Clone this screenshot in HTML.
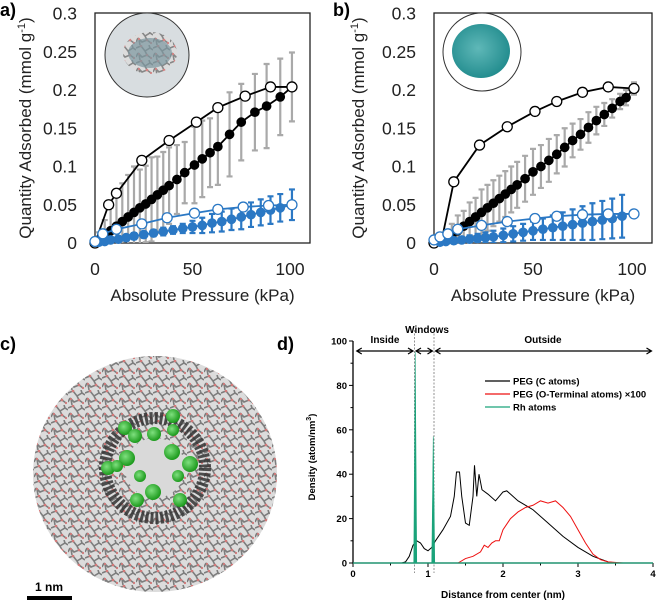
<!DOCTYPE html>
<html><head><meta charset="utf-8">
<style>
body{margin:0;background:#fff;}
svg{display:block;font-family:"Liberation Sans",Arial,sans-serif;}
</style></head>
<body>
<svg id="fig" width="657" height="602" viewBox="0 0 657 602" xmlns="http://www.w3.org/2000/svg">
<defs>
<pattern id="mol" width="17" height="15" patternUnits="userSpaceOnUse">
<rect width="17" height="15" fill="#dcdcdc"/>
<path d="M0 3 L5 1 L9 6 L14 3 L17 5 M2 8 L6 12 L11 10 L15 13 M4 15 L3 9 M9 6 L11 10 M13 0 L14 3 M0 12 L2 8" stroke="#7d7d7d" stroke-width="1.6" fill="none"/>
<circle cx="5" cy="1" r="1.3" fill="#d27878"/><circle cx="11" cy="10" r="1.3" fill="#d27878"/><circle cx="3" cy="9" r="1.1" fill="#d27878"/><circle cx="15" cy="13" r="1.1" fill="#d27878"/>
</pattern>
<radialGradient id="gb" cx="0.4" cy="0.4" r="0.6"><stop offset="0" stop-color="#7fe07f"/><stop offset="1" stop-color="#1c9a1c"/></radialGradient>
<radialGradient id="teal" cx="0.45" cy="0.45" r="0.6"><stop offset="0" stop-color="#5fb8b8"/><stop offset="1" stop-color="#1f8a8c"/></radialGradient>
<clipPath id="clipA"><rect x="95" y="13" width="215" height="230"/></clipPath>
<clipPath id="clipB"><rect x="434" y="13" width="218" height="230"/></clipPath>
</defs>
<g id="pa"></g>
<g id="pb"></g>
<g id="pc">
  <text x="0" y="350" font-size="18" font-weight="bold">c)</text>
  <ellipse cx="155" cy="474" rx="122" ry="118" fill="url(#mol)"/>
  <circle cx="155" cy="468" r="50" fill="none" stroke="#333" stroke-width="12" stroke-dasharray="3 2" opacity="0.85"/>
  <circle cx="155" cy="468" r="30" fill="#d9d9d9"/>
  <g fill="url(#gb)">
    <circle cx="125" cy="428" r="7"/><circle cx="135" cy="436" r="7"/><circle cx="173" cy="416" r="7"/><circle cx="173" cy="430" r="6"/>
    <circle cx="154" cy="434" r="7"/><circle cx="127" cy="458" r="8"/><circle cx="172" cy="452" r="8"/><circle cx="190" cy="464" r="8"/>
    <circle cx="108" cy="468" r="7"/><circle cx="117" cy="466" r="6"/><circle cx="140" cy="476" r="6"/><circle cx="178" cy="476" r="6"/>
    <circle cx="153" cy="492" r="8"/><circle cx="137" cy="500" r="7"/><circle cx="180" cy="500" r="7"/>
  </g>
  <rect x="27" y="596" width="45" height="4" fill="#000"/>
  <text x="49" y="591" font-size="12" font-weight="bold" text-anchor="middle">1 nm</text>
</g>
<g id="pd"></g>
</svg>
<script>
// ---------- Panel a data ----------
const aOpenBlackP=[0,7,11,24,38,52,63,77,90,101];
const aOpenBlackY=[0,0.05,0.065,0.108,0.134,0.158,0.177,0.192,0.204,0.204];
const aFillBlackP=[2,5,8,11,14,17,20,23,26,29,32,35,38,42,46,51,55,59,63,69,75,82,88,95,101];
const aFillBlackY=[0.004,0.01,0.016,0.022,0.028,0.034,0.04,0.046,0.051,0.057,0.063,0.069,0.075,0.083,0.092,0.102,0.11,0.118,0.126,0.142,0.158,0.171,0.179,0.191,0.204];
const aFillBlackErr=[0.01,0.02,0.03,0.04,0.05,0.055,0.06,0.05,0.05,0.055,0.05,0.05,0.05,0.045,0.04,0.05,0.05,0.045,0.05,0.055,0.05,0.05,0.055,0.05,0.045];
const aOpenBlueP=[0,4,11,24,37,51,63,76,89,101];
const aOpenBlueY=[0.002,0.012,0.018,0.025,0.033,0.039,0.044,0.047,0.049,0.05];
const aFillBlueP=[2,5,8,12,16,20,25,30,35,40,45,50,55,60,65,70,75,80,85,90,95,101];
const aFillBlueY=[0.001,0.002,0.004,0.005,0.007,0.009,0.011,0.013,0.015,0.017,0.019,0.021,0.023,0.026,0.028,0.031,0.034,0.037,0.04,0.043,0.046,0.05];
const aFillBlueErr=[0.002,0.002,0.003,0.003,0.003,0.004,0.004,0.004,0.005,0.005,0.006,0.008,0.01,0.012,0.013,0.014,0.016,0.016,0.017,0.018,0.018,0.02];
// ---------- Panel b data ----------
const bOpenBlackP=[0,4,10,23,37,51,62,75,88,101];
const bOpenBlackY=[0,0.005,0.08,0.128,0.152,0.172,0.185,0.197,0.204,0.202];
const bFillBlackP=[3,6,9,12,15,18,21,24,27,30,33,36,39,42,46,50,54,58,62,66,70,74,78,82,86,90,94,97,101];
const bFillBlackY=[0.002,0.005,0.01,0.016,0.022,0.028,0.034,0.04,0.046,0.052,0.058,0.064,0.07,0.076,0.084,0.093,0.1,0.108,0.116,0.125,0.134,0.142,0.151,0.16,0.168,0.176,0.185,0.19,0.202];
const bFillBlackErr=[0.005,0.01,0.015,0.02,0.02,0.025,0.025,0.03,0.03,0.03,0.03,0.03,0.03,0.03,0.03,0.03,0.028,0.028,0.025,0.025,0.022,0.02,0.02,0.018,0.015,0.012,0.01,0.01,0.008];
const bOpenBlueP=[0,3,7,12,24,37,51,62,75,88,101];
const bOpenBlueY=[0.004,0.008,0.012,0.018,0.023,0.028,0.032,0.035,0.037,0.038,0.038];
const bFillBlueP=[3,6,10,14,18,22,26,30,35,40,45,50,55,60,65,70,75,80,85,90,95];
const bFillBlueY=[0.001,0.002,0.003,0.004,0.005,0.006,0.007,0.008,0.01,0.012,0.014,0.016,0.018,0.02,0.022,0.024,0.026,0.028,0.03,0.032,0.035];
const bFillBlueErr=[0.002,0.003,0.003,0.004,0.005,0.006,0.007,0.008,0.009,0.01,0.011,0.012,0.014,0.016,0.018,0.02,0.022,0.024,0.025,0.026,0.028];
const isoYTicks=["0","0.05","0.1","0.15","0.2","0.25","0.3"];
const isoXTicks=["0","50","100"];
// ---------- Panel d data ----------
const dBlackX=[0.6,0.65,0.7,0.75,0.8,0.85,0.9,0.95,1.0,1.05,1.1,1.2,1.3,1.35,1.38,1.42,1.45,1.5,1.55,1.6,1.62,1.65,1.68,1.72,1.8,1.9,2.0,2.05,2.1,2.2,2.4,2.6,2.8,3.0,3.2,3.4,3.5,4.0];
const dBlackY=[0,0,0.5,3,8,10,9,6.5,5.5,7,10,15,21,30,41,41,30,18,17,30,44,30,40,33,31,28,32,32.5,31,28,24,18,12,7,3,0.5,0,0];
const dRedX=[1.2,1.4,1.5,1.6,1.7,1.75,1.8,1.85,1.9,1.95,2.0,2.1,2.2,2.3,2.4,2.5,2.6,2.7,2.8,2.9,3.0,3.1,3.2,3.3,3.4,3.6];
const dRedY=[0,0,2,3,5,8,7,9,10,10,15,20,23,25,26,28,27,28,25,21,15,9,4,1.5,0.5,0];
const dRhX=[0.83,1.07];
const dRhY=[95,57];
const dYTicks=[0,20,40,60,80,100];
const dXTicks=[0,1,2,3,4];

const NS="http://www.w3.org/2000/svg";
function mk(parent,tag,attrs,text){const e=document.createElementNS(NS,tag);for(const k in attrs)e.setAttribute(k,attrs[k]);if(text!==undefined)e.textContent=text;parent.appendChild(e);return e;}

function iso(g,cfg){
  const x=p=>cfg.x0+p*cfg.sx;
  const y=v=>243-v/0.3*229.5;
  const lbl=mk(g,'text',{x:cfg.lx,y:16,'font-size':18,'font-weight':'bold'},cfg.label);
  
  
  const fr=mk(g,'rect',{x:cfg.fl,y:13,width:cfg.fr-cfg.fl,height:230,fill:'none',stroke:'#222','stroke-width':1.3});
  
  
  isoYTicks.forEach(t=>{const e=mk(g,'text',{x:cfg.fl-18,y:y(+t)+6,'font-size':17.5,'text-anchor':'end',fill:'#222'},t);
    
    });
  isoXTicks.forEach(t=>{const e=mk(g,'text',{x:x(+t),y:275,'font-size':17.5,'text-anchor':'middle',fill:'#222'},t);
    
    });
  const xt=mk(g,'text',{x:(cfg.fl+cfg.fr)/2,y:301,'font-size':17,'text-anchor':'middle',fill:'#222'},'Absolute Pressure (kPa)');
  
  
  const yt=mk(g,'text',{transform:`translate(${cfg.yx},128) rotate(-90)`,'font-size':17,'text-anchor':'middle',fill:'#222'});
  yt.innerHTML='Quantity Adsorbed (mmol g<tspan dy="-6" font-size="11">-1</tspan><tspan dy="6">)</tspan>';
  
  
  const ph=mk(g,'circle',{cx:cfg.ix,cy:cfg.iy,r:cfg.ir,fill:cfg.photoBg,stroke:'#333','stroke-width':1});
  
  
  if(cfg.teal){mk(g,'ellipse',{cx:cfg.ix-1,cy:cfg.iy-1,rx:29,ry:27,fill:'url(#teal)'});}
  else{mk(g,'ellipse',{cx:cfg.ix+3,cy:cfg.iy-2,rx:27,ry:21,fill:'url(#mol)',opacity:0.9});mk(g,'ellipse',{cx:cfg.ix+3,cy:cfg.iy-2,rx:22,ry:15,fill:'#7b959e',opacity:0.7});}
  const D=cfg.d;
  const cg=mk(g,'g',{'clip-path':cfg.clip});
  function errs(P,Y,E,col,w,name){P.forEach((p,i)=>{const cx=x(p);const l=mk(cg,'path',{d:`M${cx} ${y(Y[i]-E[i])}V${y(Y[i]+E[i])}M${cx-3} ${y(Y[i]-E[i])}h6M${cx-3} ${y(Y[i]+E[i])}h6`,stroke:col,'stroke-width':w,fill:'none'});
    
    });}
  function series(P,Y,col,fillc,r,name){
    const pl=mk(g,'polyline',{points:P.map((p,i)=>x(p)+','+y(Y[i])).join(' '),fill:'none',stroke:col,'stroke-width':1.8});
    
    
    P.forEach((p,i)=>{const c=mk(g,'circle',{cx:x(p),cy:y(Y[i]),r:r,fill:fillc,stroke:col,'stroke-width':1.3});
      
      });}
  errs(D.fbP,D.fbY,D.fbE,'#a9a9a9',2.2,'error-bar-black');
  errs(D.fuP,D.fuY,D.fuE,'#2b78c4',2.2,'error-bar-blue');
  series(D.fbP,D.fbY,'#000','#000',4.2,'adsorption-black');
  series(D.obP,D.obY,'#000','#fff',5,'desorption-black');
  series(D.fuP,D.fuY,'#2b78c4','#2b78c4',4.2,'adsorption-blue');
  series(D.ouP,D.ouY,'#2b78c4','#fff',5,'desorption-blue');
}
iso(document.getElementById('pa'),{x0:95,sx:1.95,fl:95,fr:310,lx:0,yx:31,label:'a)',ix:147,iy:55,ir:42,photoBg:'#d8dde0',teal:false,clip:'url(#clipA)',
  d:{obP:aOpenBlackP,obY:aOpenBlackY,fbP:aFillBlackP,fbY:aFillBlackY,fbE:aFillBlackErr,ouP:aOpenBlueP,ouY:aOpenBlueY,fuP:aFillBlueP,fuY:aFillBlueY,fuE:aFillBlueErr}});
iso(document.getElementById('pb'),{x0:434,sx:1.98,fl:434,fr:652,lx:333,yx:364,label:'b)',ix:482,iy:52,ir:39,photoBg:'#fff',teal:true,clip:'url(#clipB)',
  d:{obP:bOpenBlackP,obY:bOpenBlackY,fbP:bFillBlackP,fbY:bFillBlackY,fbE:bFillBlackErr,ouP:bOpenBlueP,ouY:bOpenBlueY,fuP:bFillBlueP,fuY:bFillBlueY,fuE:bFillBlueErr}});

// ---------- panel d ----------
(function(){
  const g=document.getElementById('pd');
  const x=v=>353+v*75, y=v=>563-v*2.22;
  const lb=mk(g,'text',{x:277,y:350,'font-size':18,'font-weight':'bold'},'d)');
  
  
  const ax=mk(g,'path',{d:`M${x(0)} ${y(100)}V${y(0)}H${x(4)}`,stroke:'#000','stroke-width':1.3,fill:'none'});
  
  
  dYTicks.forEach(t=>{mk(g,'path',{d:`M${x(0)} ${y(t)}h-4`,stroke:'#000'});
    const e=mk(g,'text',{x:x(0)-6,y:y(t)+3.5,'font-size':9.5,'font-weight':'bold','text-anchor':'end'},String(t));
    
    
    if(t<100)mk(g,'path',{d:`M${x(0)} ${y(t+10)}h-2.5`,stroke:'#000'});});
  dXTicks.forEach(t=>{mk(g,'path',{d:`M${x(t)} ${y(0)}v4`,stroke:'#000'});
    if(t<4)mk(g,'path',{d:`M${x(t+0.5)} ${y(0)}v2.5`,stroke:'#000'});
    const e=mk(g,'text',{x:x(t),y:y(0)+14,'font-size':9.5,'font-weight':'bold','text-anchor':'middle'},String(t));
    
    });
  const xt=mk(g,'text',{x:503,y:598,'font-size':10,'font-weight':'bold','text-anchor':'middle'},'Distance from center (nm)');
  
  
  const yt=mk(g,'text',{transform:'translate(315,457) rotate(-90)','font-size':9.5,'font-weight':'bold','text-anchor':'middle'});
  yt.innerHTML='Density (atom/nm<tspan dy="-4" font-size="7">3</tspan><tspan dy="4">)</tspan>';
  
  
  [0.82,1.08].forEach(v=>{const l=mk(g,'line',{x1:x(v),x2:x(v),y1:330,y2:y(0)+10,stroke:'#777','stroke-width':0.8,'stroke-dasharray':'2 1.5'});
    
    });
  const ay=351;
  function arrow(a,b,name){const p=mk(g,'path',{d:`M${x(a)+5} ${ay-3}L${x(a)} ${ay}L${x(a)+5} ${ay+3}M${x(a)} ${ay}H${x(b)}M${x(b)-5} ${ay-3}L${x(b)} ${ay}L${x(b)-5} ${ay+3}`,stroke:'#000','stroke-width':1.2,fill:'none'});
    
    }
  arrow(0.05,0.8,'inside-arrow');arrow(0.84,1.06,'windows-arrow');arrow(1.1,3.98,'outside-arrow');
  [['Inside',385,343],['Windows',427,333],['Outside',543,343]].forEach(a=>{const e=mk(g,'text',{x:a[1],y:a[2],'font-size':10,'font-weight':'bold','text-anchor':'middle'},a[0]);
    
    });
  const bl=mk(g,'polyline',{points:dBlackX.map((v,i)=>x(v)+','+y(dBlackY[i])).join(' '),fill:'none',stroke:'#000','stroke-width':1});
  
  
  const rl=mk(g,'polyline',{points:dRedX.map((v,i)=>x(v)+','+y(dRedY[i])).join(' '),fill:'none',stroke:'#ee1111','stroke-width':1});
  
  
  const gl=mk(g,'line',{x1:x(0),x2:x(4),y1:y(0),y2:y(0),stroke:'#1aa37a','stroke-width':1.2});
  
  
  dRhX.forEach((v,i)=>{const s=mk(g,'path',{d:`M${x(v)-1.5} ${y(0)}L${x(v)} ${y(dRhY[i])}L${x(v)+1.5} ${y(0)}Z`,fill:'#1aa37a',stroke:'#1aa37a','stroke-width':0.6});
    
    });
  const leg=[['#000','PEG (C atoms)'],['#ee1111','PEG (O-Terminal atoms) ×100'],['#1aa37a','Rh atoms']];
  leg.forEach((l,i)=>{const yy=381+i*13;
    const ln=mk(g,'line',{x1:485,x2:510,y1:yy,y2:yy,stroke:l[0],'stroke-width':1.3});
    
    
    const t=mk(g,'text',{x:513,y:yy+3.5,'font-size':9.5,'font-weight':'bold'},l[1]);
    
    });
})();
</script>
</body></html>
